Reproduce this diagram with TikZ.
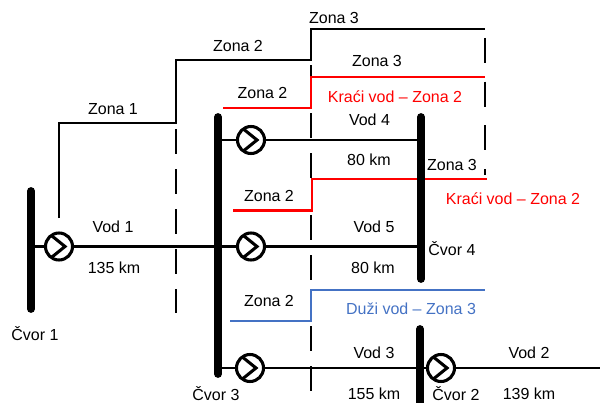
\documentclass[tikz,border=0pt]{standalone}
\usepackage{fontspec}
\setmainfont{Liberation Sans}
\usepackage{tikz}
\definecolor{plava}{RGB}{68,114,196}

\begin{document}
\begin{tikzpicture}[x=0.75pt,y=-0.75pt,
    vod/.style={line width=2.2pt},
    sabirnica/.style={line width=5.8pt,line cap=round},
    granica/.style={line width=2.2pt,dash pattern=on 18.75pt off 11.25pt,dash phase=26pt},
    relej/.style={circle,draw,line width=2.3pt,minimum size=20.25pt,inner sep=0pt,outer sep=0pt,fill=white,
        path picture={\draw[line width=2.3pt] ([shift={(-7,-10.5)}]path picture bounding box.center)
            -- ++(13,10.5) -- ++(-13,10.5);}},
    oznaka/.style={font=\fontsize{12}{14}\selectfont,text height=8.6pt,text depth=0pt,inner sep=0pt}]
    \useasboundingbox (0,0) rectangle (600,403);

    % sabirnice
    \coordinate (c1g) at (31,191);  \coordinate (c1d) at (31,309);
    \coordinate (c3g) at (218,117); \coordinate (c3d) at (218,374);
    \coordinate (c4g) at (421,117); \coordinate (c4d) at (421,279);
    \coordinate (c2g) at (420,329); \coordinate (c2d) at (420,410);
    \coordinate (kraj) at (600,368);

    % releji
    \node[relej] (r1) at (59,246.5) {};
    \node[relej] (r2) at (251,140) {};
    \node[relej] (r3) at (251,246.5) {};
    \node[relej] (r4) at (250,368) {};
    \node[relej] (r5) at (441,368) {};

    % granice zona
    \draw[granica] (176,124) -- (176,313);
    \draw[granica] (311,60) -- (311,77);
    \draw[granica] (311,108) -- (311,179);
    \draw[granica] (311,210) -- (311,290);
    \draw[granica] (311,321) -- (311,393);
    \draw[granica,dash pattern=on 18.75pt off 14pt] (485,29) -- (485,175);

    % zone
    \draw[vod] (59,218) -- (59,123) -- (176,123) -- (176,60) -- (311,60) -- (311,29) -- (485,29);
    \draw[vod,red] (223,108) -- (311,108) -- (311,77) -- (485,77);
    \draw[vod,red] (233,210.5) -- (312,210.5) -- (312,179) -- (487,179);
    \draw[vod,plava] (230,321) -- (311,321) -- (311,290) -- (485,290);

    % vodovi
    \draw[vod] (c1g |- r1) -- (r1) -- (r3) -- (c4g |- r3);
    \draw[vod] (c3g |- r2) -- (r2) -- (c4g |- r2);
    \draw[vod] (c3g |- r4) -- (r4) -- (r5) -- (kraj);

    \draw[sabirnica] (c1g) -- (c1d);
    \draw[sabirnica] (c3g) -- (c3d);
    \draw[sabirnica] (c4g) -- (c4d);
    \draw[sabirnica] (c2g) -- (c2d);

    % oznake
    \node[oznaka] (z1) at (113,108.5) {Zona 1};
    \node[oznaka] (z2) at (238,46) {Zona 2};
    \node[oznaka] (z3) at (334,18) {Zona 3};
    \node[oznaka] (z2a) at (262.5,93) {Zona 2};
    \node[oznaka] (z3a) at (377,61) {Zona 3};
    \node[oznaka,red] (kv1) at (395,97) {Kraći vod – Zona 2};
    \node[oznaka] (v4) at (369.5,120) {Vod 4};
    \node[oznaka] (d4) at (369,160) {80 km};
    \node[oznaka] (z3b) at (452,164.5) {Zona 3};
    \node[oznaka] (z2b) at (269,196) {Zona 2};
    \node[oznaka,red] (kv2) at (513,199) {Kraći vod – Zona 2};
    \node[oznaka] (v1) at (113,227) {Vod 1};
    \node[oznaka] (d1) at (114,268) {135 km};
    \node[oznaka] (v5) at (374,227) {Vod 5};
    \node[oznaka] (d5) at (373,268) {80 km};
    \node[oznaka] (c4) at (452,250) {Čvor 4};
    \node[oznaka] (z2c) at (269,301) {Zona 2};
    \node[oznaka,plava] (dv) at (411,309) {Duži vod – Zona 3};
    \node[oznaka] (c1) at (35,335) {Čvor 1};
    \node[oznaka] (v3) at (374,353) {Vod 3};
    \node[oznaka] (v2) at (529,353) {Vod 2};
    \node[oznaka] (d3) at (374,394) {155 km};
    \node[oznaka] (d2) at (529,394) {139 km};
    \node[oznaka] (c3) at (216,395) {Čvor 3};
    \node[oznaka] (c2) at (456,395) {Čvor 2};
\end{tikzpicture}
\end{document}
